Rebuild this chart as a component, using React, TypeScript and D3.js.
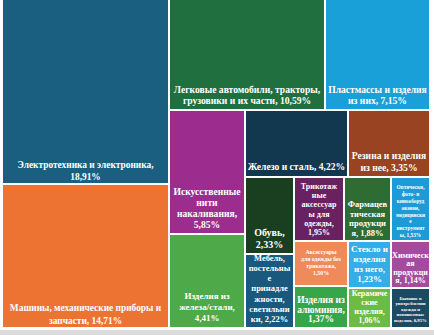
import React from "react";
import * as d3 from "d3";

const CATEGORIES = [
  "Электротехника и электроника",
  "Машины, механические приборы и запчасти",
  "Легковые автомобили, тракторы, грузовики и их части",
  "Пластмассы и изделия из них",
  "Искусственные нити накаливания",
  "Железо и сталь",
  "Резина и изделия из нее",
  "Изделия из железа/стали",
  "Обувь",
  "Трикотажные аксессуары для одежды",
  "Фармацевтическая продукция",
  "Оптические, фото- и кинооборудование, медицинские инструменты",
  "Мебель, постельные принадлежности, светильники",
  "Аксессуары для одежды без трикотажа",
  "Стекло и изделия из него",
  "Химическая продукция",
  "Изделия из алюминия",
  "Керамические изделия",
  "Бывшие в употреблении одежда и поношенные изделия",
];

const VALUES = [18.91, 14.71, 10.59, 7.15, 5.85, 4.22, 3.35, 4.41, 2.33, 1.95, 1.88, 1.53, 2.22, 1.5, 1.23, 1.14, 1.37, 1.06, 0.95];

const VALUE_LABELS = ["18,91%", "14,71%", "10,59%", "7,15%", "5,85%", "4,22%", "3,35%", "4,41%", "2,33%", "1,95%", "1,88%", "1,53%", "2,22%", "1,50%", "1,23%", "1,14%", "1,37%", "1,06%", "0,95%"];

// label text as wrapped lines
const LABEL_LINES: string[][] = [
  ["Электротехника и электроника,", "18,91%"],
  ["Машины, механические приборы и", "запчасти, 14,71%"],
  ["Легковые автомобили, тракторы,", "грузовики и их части, 10,59%"],
  ["Пластмассы и изделия", "из них, 7,15%"],
  ["Искусственные", "нити", "накаливания,", "5,85%"],
  ["Железо и сталь, 4,22%"],
  ["Резина и изделия", "из нее, 3,35%"],
  ["Изделия из", "железа/стали,", "4,41%"],
  ["Обувь,", "2,33%"],
  ["Трикотаж", "ные", "аксессуар", "ы для", "одежды,", "1,95%"],
  ["Фармацев", "тическая", "продукци", "я, 1,88%"],
  ["Оптически,", "фото- и", "кинооборуд", "ование,", "медицински", "е", "инструмент", "ы, 1,53%"],
  ["Мебель,", "постельны", "е", "принадле", "жности,", "светильни", "ки, 2,22%"],
  ["Аксессуары", "для одежды без", "трикотажа,", "1,50%"],
  ["Стекло и", "изделия", "из него,", "1,23%"],
  ["Химическ", "ая", "продукци", "я, 1,14%"],
  ["Изделия из", "алюминия,", "1,37%"],
  ["Керамиче", "ские", "изделия,", "1,06%"],
  ["Бывшие в", "употреблении", "одежда и", "поношенные", "изделия, 0,95%"],
];

const COLORS = [
  "#1b5f80", "#ed7333", "#1f6f3f", "#1aa0d8", "#9c2c8e", "#11384f", "#9a4322",
  "#4eaa48", "#193f20", "#6a2161", "#2f6c34", "#1d9bd6", "#19597d", "#ef8a5a",
  "#34aee8", "#a54b9d", "#37a64a", "#6cbb45", "#1b4a62",
];

// text style per tile: [fontSize, lineHeight, bottom padding]
const TEXT_STYLE: [number, number, number][] = [
  [9.4, 12, 3], [9.4, 13, 3], [9.6, 11, 5], [9.6, 11, 5], [9.6, 11, 5], [9.6, 11, 6], [9.6, 12, 5],
  [9, 11, 6], [10, 12, 5], [8, 9.2, 5], [8.5, 9.6, 4], [5.3, 6.8, 3], [8.5, 10.2, 5],
  [5.8, 7, 10], [9, 10, 5], [8, 8.3, 4], [9.5, 9.5, 5], [8, 9, 4], [4.8, 5.6, 5],
];

// slice/dice arrangement of the treemap (leaf = category index)
type Spec = number | [string, ...Spec[]];
const LAYOUT: Spec = ["dice",
  ["slice", 0, 1],
  ["slice",
    ["dice", 2, 3],
    ["dice",
      ["slice", 4, 7],
      ["slice",
        ["dice", 5, 6],
        ["dice",
          ["slice", 8, 12],
          ["slice",
            ["dice", 9, 10, 11],
            ["dice", ["slice", 13, 16], ["slice", 14, 17], ["slice", 15, 18]],
          ],
        ],
      ],
    ],
  ],
];

function build(spec: Spec): any {
  if (typeof spec === "number") return { idx: spec };
  const [dir, ...kids] = spec;
  return { dir, children: kids.map(build) };
}

const W = 434;
const H = 335;
const X0 = 3;
const Y0 = 0;
const CW = 426;
const CH = 327;

export default function App() {
  const root = d3
    .hierarchy(build(LAYOUT))
    .sum((d: any) => (d.idx !== undefined ? VALUES[d.idx] : 0));

  const tile = (node: any, x0: number, y0: number, x1: number, y1: number) => {
    if (node.data.dir === "slice") d3.treemapSlice(node, x0, y0, x1, y1);
    else d3.treemapDice(node, x0, y0, x1, y1);
  };

  d3.treemap<any>().tile(tile).size([CW, CH]).paddingInner(2).round(true)(root as any);

  const leaves = (root as any).leaves();

  return (
    <svg
      width={W}
      height={H}
      style={{ position: "absolute", left: 0, top: 0, background: "#ffffff" }}
      fontFamily="'Liberation Serif', 'Times New Roman', serif"
    >
      <rect x={0} y={330} width={W} height={5} fill="#dcdcdc" />
      <g transform={`translate(${X0},${Y0})`}>
        {leaves.map((lf: any) => {
          const i = lf.data.idx;
          const [fs, lh, pad] = TEXT_STYLE[i];
          const lines = LABEL_LINES[i];
          const cx = (lf.x0 + lf.x1) / 2;
          const lastBase = lf.y1 - pad;
          return (
            <g key={i}>
              <rect
                x={lf.x0}
                y={lf.y0}
                width={lf.x1 - lf.x0}
                height={lf.y1 - lf.y0}
                fill={COLORS[i]}
              >
                <title>{CATEGORIES[i] + ", " + VALUE_LABELS[i]}</title>
              </rect>
              <text
                fill="#ffffff"
                fontSize={fs}
                fontWeight="bold"
                textAnchor="middle"
              >
                {lines.map((ln, k) => (
                  <tspan key={k} x={cx} y={lastBase - (lines.length - 1 - k) * lh}>
                    {ln}
                  </tspan>
                ))}
              </text>
            </g>
          );
        })}
      </g>
    </svg>
  );
}
